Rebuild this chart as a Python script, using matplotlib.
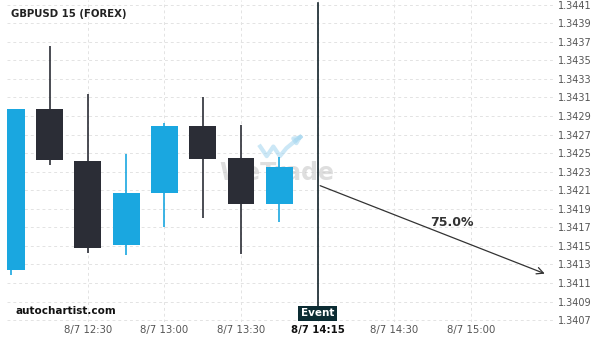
import numpy as np
import matplotlib
matplotlib.use("Agg")
import matplotlib.pyplot as plt
from matplotlib.patches import Rectangle

# candle data (15 min, 8/7 12:00 .. 13:45)
opens  = [1.34124, 1.34297, 1.34242, 1.34151, 1.34207, 1.34279, 1.34245, 1.34195]
highs  = [1.34298, 1.34365, 1.34314, 1.34249, 1.34282, 1.34310, 1.34280, 1.34246]
lows   = [1.34119, 1.34237, 1.34142, 1.34140, 1.34170, 1.34180, 1.34141, 1.34176]
closes = [1.34298, 1.34243, 1.34148, 1.34207, 1.34279, 1.34244, 1.34195, 1.34235]

tick_pos = [2, 4, 6, 8, 10, 12]
tick_labels = ["8/7 12:30", "8/7 13:00", "8/7 13:30", "8/7 14:15", "8/7 14:30", "8/7 15:00"]
y_ticks = [1.3407 + 0.0002 * i for i in range(18)]

event_x = 8
arrow_start = (8, 1.34216)
arrow_end = (14, 1.34119)
prob_text = "75.0%"

up_col = "#1aa7e0"
down_col = "#2b2d36"

fig = plt.figure(figsize=(6, 3.4), dpi=100)
ax = fig.add_axes([7/600, 18/340, 548/600, 322/340])

ax.set_xlim(-0.11, 14.2)
ax.set_ylim(1.34068, 1.34415)

# grid
for y in y_ticks:
    ax.axhline(y, color="#e3e3e3", lw=0.7, ls=(0, (3, 3)), zorder=0)
for x in tick_pos:
    ax.axvline(x, color="#e3e3e3", lw=0.7, ls=(0, (3, 3)), zorder=0)

# watermark
ax.text(0.493, 0.462, "WeTrade", transform=ax.transAxes, fontsize=17, fontweight="bold",
        color="#c8c8c8", alpha=0.6, ha="center", va="center", zorder=1)
wx = [0.462, 0.474, 0.486, 0.498, 0.510, 0.535]
wy = [0.545, 0.515, 0.545, 0.515, 0.540, 0.575]
ax.plot(wx, wy, transform=ax.transAxes, color="#a9d8f0", lw=3, alpha=0.6, zorder=1)
ax.annotate("", xy=(0.545, 0.585), xytext=(0.530, 0.568), xycoords="axes fraction",
            arrowprops=dict(arrowstyle="-|>", color="#a9d8f0", lw=3, alpha=0.6), zorder=1)

# candles
w = 0.7
for i, (o, h, l, c) in enumerate(zip(opens, highs, lows, closes)):
    col = up_col if c >= o else down_col
    ax.vlines(i, l, h, color=col, lw=1.2, zorder=2)
    ax.add_patch(Rectangle((i - w/2, min(o, c)), w, abs(c - o), facecolor=col,
                           edgecolor=col, lw=0, zorder=3))

# event line
ax.axvline(event_x, ymin=0.045, ymax=0.99, color="#13232a", lw=1.2, zorder=4)
ax.text(event_x, 0.027, "Event", transform=ax.get_xaxis_transform(), ha="center", va="center",
        color="white", fontsize=7.5, fontweight="bold", zorder=5,
        bbox=dict(boxstyle="square,pad=0.25", facecolor="#0c2c33", edgecolor="none"))

# forecast arrow
ax.annotate("", xy=arrow_end, xytext=arrow_start,
            arrowprops=dict(arrowstyle="->", color="#333333", lw=0.9, mutation_scale=12), zorder=4)
ax.text(11.5, 1.34175, prob_text, fontsize=9, fontweight="bold", color="#333333",
        ha="center", va="center", zorder=5)

ax.text(0.007, 0.957, "GBPUSD 15 (FOREX)", transform=ax.transAxes, fontsize=7.3,
        fontweight="bold", color="#222222", va="center")
ax.text(0.016, 0.034, "autochartist.com", transform=ax.transAxes, fontsize=7.5,
        fontweight="bold", color="#111111", va="center")

ax.yaxis.tick_right()
ax.set_yticks(y_ticks)
ax.set_yticklabels(["%.4f" % y for y in y_ticks], fontsize=7, color="#555555")
ax.set_xticks(tick_pos)
ax.set_xticklabels(tick_labels, fontsize=7.3, color="#555555")
for lbl in ax.get_xticklabels():
    if lbl.get_text() == "8/7 14:15":
        lbl.set_fontweight("bold")
        lbl.set_color("#111111")
ax.tick_params(length=0, pad=2)
for s in ax.spines.values():
    s.set_visible(False)

fig.savefig("out.png", dpi=100)
